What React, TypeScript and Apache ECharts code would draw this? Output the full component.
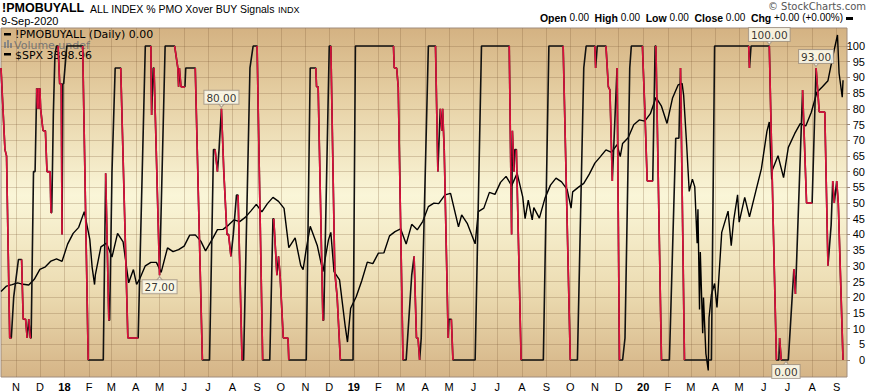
import React, { useEffect, useRef } from "react";
import * as echarts from "echarts";

// ---------- data ----------
const pmoDates = [
  "2017-10-13","2017-10-18","2017-10-20","2017-10-24","2017-10-26","2017-10-29","2017-11-04","2017-11-08","2017-11-10","2017-11-13",
  "2017-11-15","2017-11-17","2017-11-19","2017-11-20","2017-11-23","2017-11-25","2017-11-27","2017-11-28","2017-11-29","2017-11-30",
  "2017-12-01","2017-12-02","2017-12-05","2017-12-08","2017-12-10","2017-12-14","2017-12-15","2017-12-16","2017-12-18","2017-12-20",
  "2017-12-22","2017-12-24","2017-12-26","2017-12-28","2017-12-29","2017-12-30","2017-12-31","2018-01-04","2018-01-24","2018-01-31",
  "2018-02-19","2018-02-22","2018-02-26","2018-02-27","2018-03-02","2018-03-06","2018-03-13","2018-03-22","2018-04-04","2018-04-13",
  "2018-04-20","2018-04-21","2018-04-23","2018-04-24","2018-05-01","2018-05-08","2018-05-20","2018-05-24","2018-05-25","2018-05-26",
  "2018-05-28","2018-06-02","2018-06-03","2018-06-15","2018-06-24","2018-07-03","2018-07-08","2018-07-10","2018-07-13","2018-07-15",
  "2018-07-18","2018-07-20","2018-07-21","2018-07-25","2018-07-27","2018-07-30","2018-08-02","2018-08-06","2018-08-08","2018-08-13",
  "2018-08-15","2018-08-23","2018-08-27","2018-09-01","2018-09-08","2018-09-17","2018-09-21","2018-09-22","2018-09-26","2018-09-28",
  "2018-09-30","2018-10-04","2018-10-10","2018-10-11","2018-11-02","2018-11-07","2018-11-14","2018-11-15","2018-11-17","2018-11-23",
  "2018-11-24","2018-12-01","2018-12-03","2018-12-08","2018-12-11","2018-12-15","2018-12-31","2019-01-03","2019-02-20","2019-02-21",
  "2019-02-24","2019-02-26","2019-03-04","2019-03-08","2019-03-15","2019-03-18","2019-03-21","2019-03-23","2019-03-25","2019-03-27",
  "2019-04-05","2019-04-14","2019-04-17","2019-04-20","2019-04-22","2019-04-23","2019-04-25","2019-04-30","2019-05-01","2019-05-04",
  "2019-05-06","2019-06-03","2019-06-11","2019-07-16","2019-07-19","2019-07-20","2019-07-22","2019-07-23","2019-07-25","2019-07-31",
  "2019-08-28","2019-09-04","2019-09-22","2019-10-01","2019-10-10","2019-10-18","2019-10-21","2019-11-01","2019-11-02","2019-11-04",
  "2019-11-15","2019-11-18","2019-11-20","2019-11-23","2019-11-29","2019-12-02","2019-12-06","2019-12-09","2019-12-15","2019-12-17",
  "2019-12-31","2020-01-01","2020-01-03","2020-01-06","2020-01-13","2020-01-16","2020-01-17","2020-01-24","2020-02-03","2020-02-11",
  "2020-02-15","2020-02-17","2020-02-22","2020-03-27","2020-03-31","2020-05-13","2020-05-14","2020-05-16","2020-06-08","2020-06-13",
  "2020-06-17","2020-06-20","2020-06-21","2020-06-23","2020-07-02","2020-07-09","2020-07-11","2020-07-20","2020-07-25","2020-08-01",
  "2020-08-06","2020-08-10","2020-08-17","2020-08-21","2020-08-25","2020-08-27","2020-08-29","2020-09-01","2020-09-03","2020-09-09"
];
const pmoValues = [
  93,67,65,7,7,20,32,32,13,13,
  7,13,7,7,60,60,86.5,80,86.5,80,
  86.5,80,73,73,60,60,47,47,78,97,
  100,100,88,88,40,88,88,100,100,0,
  0,59.5,12.7,12.7,60,93,93,7,7,100,
  100,78,93,93,27,100,100,93,87,93,
  87,87,93,93,0,0,67,67,60,67,
  80,67,60,40,40,33,40,52.5,52.5,0,
  0,93,100,100,0,0,45,45,27,33,
  27,7,7,0,0,93,93,87,87,12.7,
  12.7,100,100,28,20,0,0,100,100,93,
  93,87,0,0,27,33,7,7,0,7,
  100,100,60,80,73,80,67,7,13,13,
  0,0,100,100,40,73,60,67,67,0,
  0,100,100,0,0,93,100,100,93,100,
  100,87,86,57,93,0,0,7,93,100,
  100,93,80,57,57,100,100,0,0,70.6,
  70.6,93,0,0,100,100,93,100,100,43,
  0,0,7,0,0,29,21,86,50,50,
  93,79,79,30,43,57,50,57,50,0
];

const spxDates = [
  "2017-10-13","2017-10-20","2017-10-27","2017-11-03","2017-11-10","2017-11-17","2017-11-24","2017-12-01","2017-12-08","2017-12-15",
  "2017-12-22","2017-12-29","2018-01-05","2018-01-12","2018-01-19","2018-01-26","2018-02-02","2018-02-05","2018-02-08","2018-02-09",
  "2018-02-16","2018-02-23","2018-03-02","2018-03-09","2018-03-16","2018-03-23","2018-03-29","2018-04-02","2018-04-06","2018-04-13",
  "2018-04-20","2018-04-27","2018-05-03","2018-05-11","2018-05-18","2018-05-25","2018-06-01","2018-06-08","2018-06-15","2018-06-22",
  "2018-06-28","2018-07-06","2018-07-13","2018-07-20","2018-07-27","2018-08-03","2018-08-10","2018-08-17","2018-08-24","2018-08-31",
  "2018-09-07","2018-09-14","2018-09-21","2018-09-28","2018-10-05","2018-10-11","2018-10-19","2018-10-26","2018-10-29","2018-11-02",
  "2018-11-07","2018-11-16","2018-11-23","2018-11-30","2018-12-03","2018-12-07","2018-12-14","2018-12-21","2018-12-24","2018-12-28",
  "2019-01-04","2019-01-11","2019-01-18","2019-01-25","2019-02-01","2019-02-08","2019-02-15","2019-02-22","2019-03-01","2019-03-08",
  "2019-03-15","2019-03-22","2019-03-29","2019-04-05","2019-04-12","2019-04-18","2019-04-26","2019-05-03","2019-05-13","2019-05-17",
  "2019-05-24","2019-06-03","2019-06-07","2019-06-14","2019-06-21","2019-06-28","2019-07-05","2019-07-12","2019-07-19","2019-07-26",
  "2019-08-02","2019-08-05","2019-08-09","2019-08-14","2019-08-16","2019-08-23","2019-08-30","2019-09-06","2019-09-13","2019-09-20",
  "2019-09-27","2019-10-02","2019-10-04","2019-10-11","2019-10-18","2019-10-25","2019-11-01","2019-11-08","2019-11-15","2019-11-22",
  "2019-11-29","2019-12-03","2019-12-06","2019-12-13","2019-12-20","2019-12-27","2020-01-03","2020-01-10","2020-01-17","2020-01-24",
  "2020-01-31","2020-02-07","2020-02-14","2020-02-19","2020-02-21","2020-02-25","2020-02-28","2020-03-03","2020-03-06","2020-03-09",
  "2020-03-10","2020-03-12","2020-03-13","2020-03-16","2020-03-17","2020-03-20","2020-03-23","2020-03-24","2020-03-27","2020-03-31",
  "2020-04-03","2020-04-09","2020-04-17","2020-04-21","2020-04-24","2020-04-29","2020-05-01","2020-05-08","2020-05-14","2020-05-22",
  "2020-05-29","2020-06-05","2020-06-08","2020-06-11","2020-06-12","2020-06-19","2020-06-26","2020-07-02","2020-07-10","2020-07-17",
  "2020-07-24","2020-07-31","2020-08-07","2020-08-14","2020-08-21","2020-08-28","2020-09-02","2020-09-04","2020-09-08","2020-09-09"
];
const spxValues = [
  2553,2575,2581,2588,2582,2579,2602,2642,2652,2675,
  2684,2674,2743,2786,2810,2873,2762,2649,2581,2620,
  2732,2747,2691,2786,2752,2588,2641,2582,2604,2656,
  2670,2670,2630,2728,2713,2721,2735,2779,2780,2755,
  2716,2760,2801,2802,2819,2840,2833,2850,2875,2902,
  2872,2905,2930,2914,2886,2729,2768,2658,2641,2723,
  2814,2736,2633,2760,2790,2633,2600,2417,2351,2486,
  2532,2596,2671,2665,2707,2708,2776,2793,2804,2743,
  2822,2800,2834,2893,2907,2905,2940,2946,2812,2860,
  2826,2744,2873,2887,2950,2942,2990,3014,2977,3026,
  2932,2845,2919,2840,2889,2847,2926,2979,3007,2992,
  2962,2887,2952,2970,2986,3023,3067,3093,3120,3110,
  3141,3093,3146,3169,3221,3240,3235,3265,3330,3295,
  3226,3328,3380,3386,3338,3128,2954,3003,2972,2747,
  2882,2481,2711,2386,2529,2305,2237,2448,2541,2585,
  2489,2790,2875,2737,2837,2940,2831,2930,2852,2955,
  3044,3194,3232,3002,3041,3097,3009,3130,3185,3225,
  3216,3271,3351,3373,3397,3508,3580,3427,3331,3399
];

const monthLetters = ["J","F","M","A","M","J","J","A","S","O","N","D"];
const yTickLabels = ["0","5","10","15","20","25","30","35","40","45","50","55","60","65","70","75","80","85","90","95","100"];

const calloutDates = ["2018-05-01", "2018-07-18", "2020-06-08", "2020-06-29", "2020-08-06"];
const calloutValues = [27, 80, 100, 0, 93];

const titleSymbol = "!PMOBUYALL";
const titleText = "ALL INDEX % PMO Xover BUY Signals";
const titleExchange = "INDX";
const dateText = "9-Sep-2020";
const quoteText = "{b|Open} 0.00  {b|High} 0.00  {b|Low} 0.00  {b|Close} 0.00  {b|Chg} +0.00 (+0.00%)";
const legendPmo = "!PMOBUYALL (Daily) 0.00";
const legendVol = "Volume undef";
const legendSpx = "$SPX 3398.96";

// ---------- helpers ----------
const ts = (s: string) => {
  const [y, m, d] = s.split("-").map(Number);
  return new Date(y, m - 1, d).getTime();
};
const SANS = "'Liberation Sans', Arial, sans-serif";
const VERD = "'DejaVu Sans', Verdana, sans-serif";
const RED = "#e0103c";
const GRIDC = "rgba(125, 90, 55, 0.26)";

export default function App() {
  const ref = useRef<HTMLDivElement>(null);

  useEffect(() => {
    if (!ref.current) return;
    const chart = echarts.init(ref.current, undefined, { renderer: "svg" });

    const pmoPts = pmoDates.map((d, i) => [ts(d), pmoValues[i]]);
    const spxPts = spxDates.map((d, i) => [ts(d), spxValues[i]]);

    const redSegs: any[] = [];
    let prevRed = false;
    for (let i = 1; i < pmoPts.length; i++) {
      const a = pmoValues[i - 1];
      const b = pmoValues[i];
      const red = b < a ? true : b > a ? false : prevRed && b !== 0;
      if (red) redSegs.push({ coords: [pmoPts[i - 1], pmoPts[i]] });
      prevRed = red;
    }

    const callLabels = calloutDates.map((d, i) => {
      const below = calloutValues[i] <= 30;
      return {
        value: [ts(d), calloutValues[i]],
        label: { position: below ? "bottom" : "top", distance: 5 },
      };
    });
    const callPointers = calloutDates.map((d, i) => {
      const below = calloutValues[i] <= 30;
      return {
        value: [ts(d), calloutValues[i]],
        symbolRotate: below ? 0 : 180,
        symbolOffset: [0, below ? 4 : -4],
      };
    });

    const xMin = ts("2017-10-13");
    const xMax = ts("2020-09-14");
    const DAY = 86400000;

    const legendText = (text: string, x: number, y: number, fill: string) => ({
      type: "text", x, y, scaleX: 1.1,
      style: { text, font: "10px " + VERD, fill, verticalAlign: "middle", lineHeight: 10 },
    });

    const option: any = {
      animation: false,
      backgroundColor: "#ffffff",
      grid: [
        {
          left: 1, right: 24, top: 28, bottom: 13,
          show: true,
          backgroundColor: new echarts.graphic.LinearGradient(0, 0, 0, 1, [
            { offset: 0, color: "#d4b282" },
            { offset: 0.2, color: "#e6d0a4" },
            { offset: 0.48, color: "#faf6d8" },
            { offset: 0.75, color: "#ecdcb2" },
            { offset: 1, color: "#d5b486" },
          ]),
          borderColor: "#a08c7c",
          borderWidth: 1,
        },
        { left: 1, right: 24, top: 46, bottom: 32, show: false },
      ],
      xAxis: [
        {
          type: "time", gridIndex: 0, min: xMin, max: xMax,
          minInterval: 28 * DAY, maxInterval: 31 * DAY,
          axisLine: { show: false },
          axisTick: { show: false },
          splitLine: { show: true, showMinLine: false, showMaxLine: false, lineStyle: { color: GRIDC, width: 1 } },
          axisLabel: {
            show: true, margin: 4, color: "#000", fontSize: 11, fontFamily: SANS,
            showMinLabel: false, showMaxLabel: false, hideOverlap: false,
            formatter: (val: number) => {
              const d = new Date(val);
              if (d.getDate() !== 1) return "";
              const m = d.getMonth();
              if (m === 0) return "{y|" + String(d.getFullYear()).slice(2) + "}";
              return monthLetters[m];
            },
            rich: { y: { fontWeight: "bold", fontSize: 11, fontFamily: SANS, color: "#000" } },
          },
        },
        { type: "time", gridIndex: 1, min: xMin, max: xMax, show: false, splitLine: { show: false } },
      ],
      yAxis: [
        { type: "value", gridIndex: 0, min: 2211, max: 3608, show: false, splitLine: { show: false } },
        {
          type: "value", gridIndex: 1, position: "right", min: 0, max: 100, interval: 5,
          axisLine: { show: false },
          axisTick: { show: true, length: 3, lineStyle: { color: "#9a8878" } },
          splitLine: { show: true, lineStyle: { color: GRIDC, width: 1 } },
          axisLabel: {
            align: "right", margin: 18, color: "#000", fontSize: 11, fontFamily: SANS,
            formatter: (v: number) => yTickLabels[Math.round(v / 5)] ?? "",
          },
        },
      ],
      series: [
        {
          name: "$SPX", type: "line", xAxisIndex: 0, yAxisIndex: 0,
          data: spxPts, showSymbol: false, symbol: "none", clip: false,
          lineStyle: { color: "#000", width: 1.4 }, z: 2,
        },
        {
          name: "!PMOBUYALL", type: "line", xAxisIndex: 1, yAxisIndex: 1,
          data: pmoPts, showSymbol: false, symbol: "none", clip: false,
          lineStyle: { color: "#111", width: 1.6 }, z: 3,
        },
        {
          name: "PMO down", type: "lines", coordinateSystem: "cartesian2d",
          xAxisIndex: 1, yAxisIndex: 1, data: redSegs, clip: false,
          lineStyle: { color: RED, width: 1.6, opacity: 1 }, z: 4,
        },
        {
          name: "pointer", type: "scatter", xAxisIndex: 1, yAxisIndex: 1,
          data: callPointers, symbol: "triangle", symbolSize: [8, 5], clip: false,
          itemStyle: { color: "#fffff2", borderColor: "#a09484", borderWidth: 1 }, z: 10,
          silent: true,
        },
        {
          name: "callout", type: "scatter", xAxisIndex: 1, yAxisIndex: 1,
          data: callLabels, symbolSize: 0, clip: false, z: 11, silent: true,
          label: {
            show: true,
            formatter: (p: any) => p.value[1].toFixed(2),
            fontSize: 10.5, fontFamily: VERD, color: "#000",
            backgroundColor: "#fffff2", borderColor: "#a09484", borderWidth: 1,
            padding: [1, 2, 0, 2], lineHeight: 12,
          },
        },
      ],
      graphic: [
        { type: "text", x: 2, y: 1, style: { text: titleSymbol, font: "bold 12.5px " + SANS, fill: "#000" } },
        { type: "text", x: 90, y: 3, style: { text: titleText, font: "10.5px " + SANS, fill: "#000" } },
        { type: "text", x: 278, y: 5, style: { text: titleExchange, font: "9px " + SANS, fill: "#000" } },
        { type: "text", x: 1, y: 15, style: { text: dateText, font: "11px " + SANS, fill: "#000" } },
        { type: "text", x: 866, y: 1, style: { text: "\u00a9 StockCharts.com", font: "10px " + VERD, fill: "#555", align: "right" } },
        {
          type: "text", x: 843, y: 12,
          style: {
            text: quoteText, align: "right",
            font: "10px " + SANS, fill: "#000",
            rich: { b: { fontWeight: "bold", fontSize: 10.5, fontFamily: SANS } },
          },
        },
        { type: "rect", x: 846, y: 17, shape: { width: 7, height: 3 }, style: { fill: "#000" } },
        // in-plot legend
        { type: "rect", x: 4, y: 33, shape: { width: 7, height: 2.5 }, style: { fill: "#000" } },
        legendText(legendPmo, 15, 34.5, "#000"),
        { type: "rect", x: 4, y: 42, shape: { width: 2, height: 6 }, style: { fill: "#888" } },
        { type: "rect", x: 7, y: 40, shape: { width: 2, height: 8 }, style: { fill: "#888" } },
        { type: "rect", x: 10, y: 43, shape: { width: 2, height: 5 }, style: { fill: "#888" } },
        legendText(legendVol, 14, 44.8, "#777"),
        { type: "rect", x: 4, y: 53, shape: { width: 7, height: 2.5 }, style: { fill: "#000" } },
        legendText(legendSpx, 15, 55.1, "#000"),
      ],
    };

    chart.setOption(option);
    return () => chart.dispose();
  }, []);

  return (
    <div
      ref={ref}
      style={{ position: "fixed", left: 0, top: 0, width: 871, height: 392, background: "#fff" }}
    />
  );
}
